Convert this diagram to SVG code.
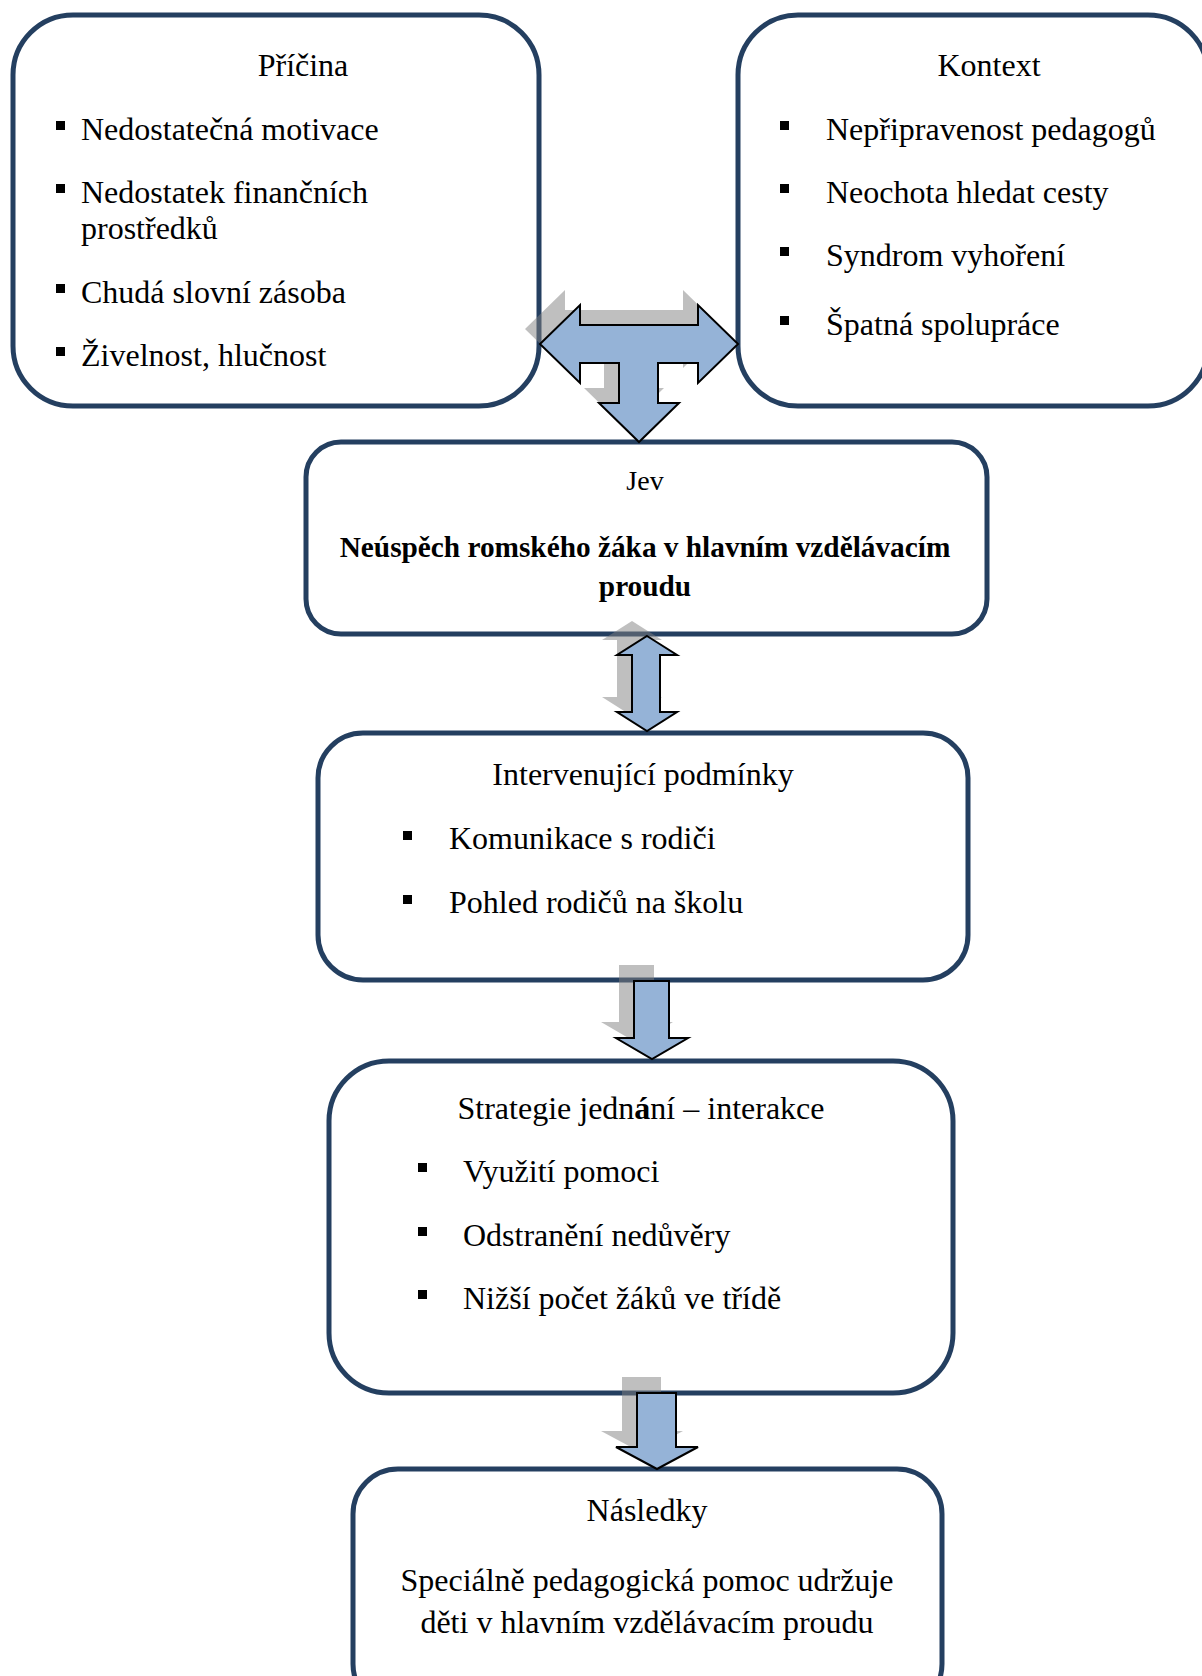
<svg xmlns="http://www.w3.org/2000/svg" width="1202" height="1676" viewBox="0 0 1202 1676">
<style>
.box{fill:#fff;stroke:#243f60;stroke-width:5}
.t{font-family:"Liberation Serif","Times New Roman",serif;font-size:32px;fill:#000}
.c{text-anchor:middle}
.b{font-weight:bold}
.bl{fill:#000}
.sh{fill:#808080;fill-opacity:0.5}
.ar{fill:#95b3d7;stroke:#000;stroke-width:2;stroke-linejoin:miter}
</style>
<defs>
<path id="tArrow" d="M540,344 L580,305 L580,325 L698,325 L698,305 L738,344 L698,383 L698,363 L658,363 L658,403 L679,403 L639,442 L599,403 L619,403 L619,363 L580,363 L580,383 Z"/>
<path id="dArrow" d="M647,636 L677,655 L660,655 L660,712 L677,712 L647,731 L617,712 L632,712 L632,655 L617,655 Z"/>
<path id="down1" d="M634,981 L669,981 L669,1038 L688,1038 L652,1059 L616,1038 L634,1038 Z"/>
<path id="down2" d="M637,1393 L676,1393 L676,1447 L698,1447 L657,1469 L616,1447 L637,1447 Z"/>
<rect id="sq" width="9" height="9"/>
</defs>
<rect width="1202" height="1676" fill="#fff"/>

<g id="pricina">
<rect class="box" x="13" y="15" width="526" height="391" rx="60"/>
<text class="t c" x="303" y="76">Příčina</text>
<use href="#sq" class="bl" x="56" y="121"/>
<text class="t" x="81" y="139.5">Nedostatečná motivace</text>
<use href="#sq" class="bl" x="56" y="184"/>
<text class="t" x="81" y="202.5">Nedostatek finančních</text>
<text class="t" x="81" y="238.5">prostředků</text>
<use href="#sq" class="bl" x="56" y="284"/>
<text class="t" x="81" y="302.5">Chudá slovní zásoba</text>
<use href="#sq" class="bl" x="56" y="347"/>
<text class="t" x="81" y="365.5">Živelnost, hlučnost</text>
</g>

<g id="kontext">
<rect class="box" x="738" y="15" width="470" height="391" rx="60"/>
<text class="t c" x="989" y="76">Kontext</text>
<use href="#sq" class="bl" x="780" y="121"/>
<text class="t" x="826" y="139.5">Nepřipravenost pedagogů</text>
<use href="#sq" class="bl" x="780" y="184"/>
<text class="t" x="826" y="202.5">Neochota hledat cesty</text>
<use href="#sq" class="bl" x="780" y="247"/>
<text class="t" x="826" y="265.5">Syndrom vyhoření</text>
<use href="#sq" class="bl" x="780" y="316"/>
<text class="t" x="826" y="334.5">Špatná spolupráce</text>
</g>

<g id="jev">
<rect class="box" x="306" y="442" width="681" height="192" rx="35"/>
<text class="t c" x="645" y="490" style="font-size:28px">Jev</text>
<text class="t c b" x="645" y="557" style="font-size:29.3px">Neúspěch romského žáka v hlavním vzdělávacím</text>
<text class="t c b" x="645" y="596" style="font-size:29.3px">proudu</text>
</g>

<g id="intervenujici">
<rect class="box" x="318" y="733" width="650" height="247" rx="45"/>
<text class="t c" x="643" y="785">Intervenující podmínky</text>
<use href="#sq" class="bl" x="403" y="831"/>
<text class="t" x="449" y="849">Komunikace s rodiči</text>
<use href="#sq" class="bl" x="403" y="895"/>
<text class="t" x="449" y="913">Pohled rodičů na školu</text>
</g>

<g id="strategie">
<rect class="box" x="329" y="1061" width="624" height="332" rx="60"/>
<text class="t c" x="641" y="1118.5">Strategie jedn<tspan class="b">á</tspan>ní – interakce</text>
<use href="#sq" class="bl" x="418" y="1163"/>
<text class="t" x="463" y="1181.5">Využití pomoci</text>
<use href="#sq" class="bl" x="418" y="1227"/>
<text class="t" x="463" y="1245.5">Odstranění nedůvěry</text>
<use href="#sq" class="bl" x="418" y="1290"/>
<text class="t" x="463" y="1308.5">Nižší počet žáků ve třídě</text>
</g>

<g id="nasledky">
<rect class="box" x="353" y="1469" width="589" height="240" rx="45"/>
<text class="t c" x="647" y="1521">Následky</text>
<text class="t c" x="647" y="1590.5">Speciálně pedagogická pomoc udržuje</text>
<text class="t c" x="647" y="1633">děti v hlavním vzdělávacím proudu</text>
</g>

<g id="connectors">
<use href="#tArrow" class="sh" x="-15" y="-15"/>
<use href="#dArrow" class="sh" x="-15" y="-15"/>
<use href="#down1" class="sh" x="-15" y="-16"/>
<use href="#down2" class="sh" x="-15" y="-16"/>
<use href="#tArrow" class="ar"/>
<use href="#dArrow" class="ar"/>
<use href="#down1" class="ar"/>
<use href="#down2" class="ar"/>
</g>
</svg>
